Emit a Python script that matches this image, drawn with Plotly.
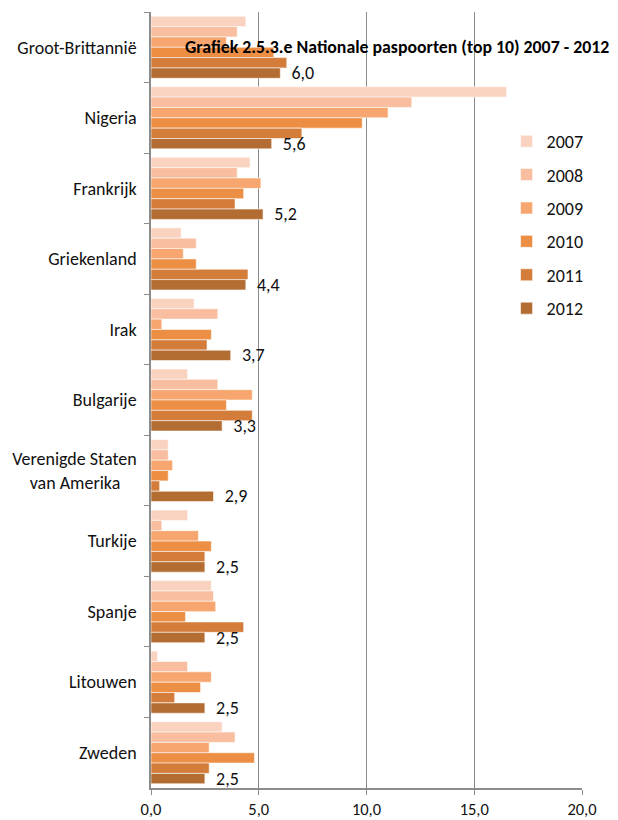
import plotly.graph_objects as go

# ── Data ────────────────────────────────────────────────────────────────
COUNTRIES = ["Groot-Brittannië", "Nigeria", "Frankrijk", "Griekenland", "Irak",
             "Bulgarije", "Verenigde Staten<br>van Amerika" + "\u00a0" * 4, "Turkije",
             "Spanje", "Litouwen", "Zweden"]
YEARS = ["2007", "2008", "2009", "2010", "2011", "2012"]

V2007 = [4.4, 16.5, 4.6, 1.4, 2.0, 1.7, 0.8, 1.7, 2.8, 0.3, 3.3]
V2008 = [4.0, 12.1, 4.0, 2.1, 3.1, 3.1, 0.8, 0.5, 2.9, 1.7, 3.9]
V2009 = [3.5, 11.0, 5.1, 1.5, 0.5, 4.7, 1.0, 2.2, 3.0, 2.8, 2.7]
V2010 = [5.7, 9.8, 4.3, 2.1, 2.8, 3.5, 0.8, 2.8, 1.6, 2.3, 4.8]
V2011 = [6.3, 7.0, 3.9, 4.5, 2.6, 4.7, 0.4, 2.5, 4.3, 1.1, 2.7]
V2012 = [6.0, 5.6, 5.2, 4.4, 3.7, 3.3, 2.9, 2.5, 2.5, 2.5, 2.5]

SERIES = [V2007, V2008, V2009, V2010, V2011, V2012]
COLORS = ["#FAD3C0", "#F8BE9F", "#F6A66E", "#EC8F45", "#D47C3A", "#B36D33"]

FONT = "Carlito, Lato, sans-serif"
FS = 18

# page has an 8px body margin, so the figure is drawn 8px smaller
W, H = 610, 812

fig = go.Figure()
for i, (year, vals) in enumerate(zip(YEARS, SERIES)):
    is_last = i == len(YEARS) - 1
    fig.add_trace(go.Bar(
        y=COUNTRIES, x=vals, name=year, orientation="h",
        legendgroup=year,
        marker=dict(color=COLORS[i], line=dict(color="rgba(255,255,255,0.55)", width=1)),
        text=[f"  {v:.1f}".replace(".", ",") for v in vals] if is_last else None,
        textposition="outside" if is_last else None,
        constraintext="none",
        textfont=dict(size=FS, color="#111111", family=FONT),
        cliponaxis=False,
    ))

fig.update_layout(
    width=W, height=H,
    barmode="group", bargap=0.12, bargroupgap=0,
    paper_bgcolor="white", plot_bgcolor="white",
    font=dict(family=FONT, size=FS, color="#111111"),
    margin=dict(l=143, r=36, t=4, b=32, autoexpand=False),
    title=dict(
        text="<b>Grafiek 2.5.3.e Nationale paspoorten (top 10) 2007 - 2012</b>",
        font=dict(size=17.8, family=FONT, color="#000000"),
        x=177 / W, xanchor="left", y=1 - 39 / H, yanchor="middle",
    ),
    legend=dict(
        x=0.825, xanchor="left", y=0.857, yanchor="top",
        font=dict(size=FS, family=FONT), tracegroupgap=7,
        itemwidth=30, bgcolor="rgba(0,0,0,0)",
    ),
    separators=",.",
)

fig.update_xaxes(
    range=[0, 20], dtick=5, tickformat=".1f", automargin=False,
    showgrid=True, gridcolor="#8c8c8c", gridwidth=1,
    showline=True, linecolor="#8c8c8c", linewidth=1.5,
    ticks="outside", ticklen=5, tickcolor="#8c8c8c",
    zeroline=False, tickfont=dict(size=16.5), ticklabelstandoff=0,
)
fig.update_yaxes(
    autorange="reversed", tickson="boundaries", automargin=False,
    showline=True, linecolor="#8c8c8c", linewidth=1.5,
    ticks="outside", ticklen=5, tickcolor="#8c8c8c",
    tickfont=dict(size=FS), ticklabelstandoff=9,
)

fig.write_html("out.html")
